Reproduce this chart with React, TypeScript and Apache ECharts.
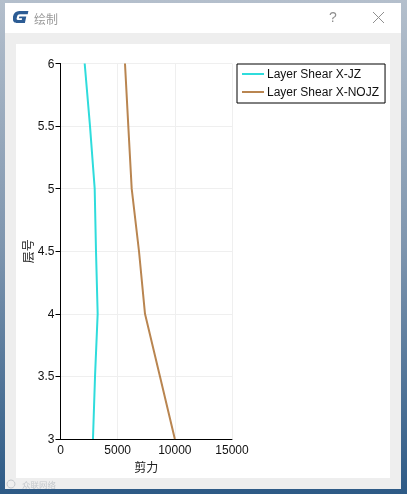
import React, { useEffect, useRef } from "react";
import * as echarts from "echarts";

const FONT = "'Liberation Sans', 'Noto Sans CJK SC', sans-serif";
const CJK = "'Noto Sans CJK SC', sans-serif";

const storeys = [3, 3.5, 4, 4.5, 5, 5.5, 6];
const shearJZ = [2840, 3020, 3250, 3105, 2990, 2580, 2115];
const shearNOJZ = [10000, 8700, 7390, 6866, 6227, 5930, 5640];
const seriesNames = ["Layer Shear X-JZ", "Layer Shear X-NOJZ"];
const seriesColors = ["#2fdcdc", "#b98550"];
const xTicks = { min: 0, max: 15000, interval: 5000 };
const yTicks = { min: 3, max: 6, interval: 0.5 };

const LOGO =
  "M22 0 L9 0 C4 0 1 3 0 8 L0 12 C0 16 3 17 6 17 L17 17 L19 8 L9 8 L8.5 10.5 L13 10.5 L12.5 13 L7 13 C5.5 13 5 12 5.2 10.5 L6 7.5 C6.4 5.5 7.5 4.5 10 4.5 L21 4.5 Z";
echarts.graphic.registerShape("gLogo", echarts.graphic.extendPath(LOGO, {}));

export default function App() {
  const ref = useRef<HTMLDivElement>(null);
  useEffect(() => {
    const chart = echarts.init(ref.current!, undefined, { renderer: "svg" });
    const toPairs = (xs: number[]) => xs.map((x, i) => [x, storeys[i]]);
    chart.setOption({
      animation: false,
      backgroundColor: "transparent",
      grid: { left: 60.5, top: 63.5, width: 171.5, height: 375.5, containLabel: false },
      xAxis: {
        type: "value",
        min: xTicks.min,
        max: xTicks.max,
        interval: xTicks.interval,
        name: "剪力",
        nameLocation: "middle",
        nameGap: 19,
        nameTextStyle: { color: "#222", fontFamily: CJK, fontSize: 12 },
        axisLine: { show: true, onZero: false, lineStyle: { color: "#000", width: 1 } },
        axisTick: { show: false },
        axisLabel: {
          color: "#111",
          fontFamily: FONT,
          fontSize: 12,
          margin: 5,
          hideOverlap: false,
          showMinLabel: true,
          showMaxLabel: true,
          formatter: (v: number) => String(v),
        },
        splitLine: { show: true, lineStyle: { color: "#efefef", width: 1 } },
      },
      yAxis: {
        type: "value",
        min: yTicks.min,
        max: yTicks.max,
        interval: yTicks.interval,
        name: "层号",
        nameLocation: "middle",
        nameGap: 27,
        nameRotate: 90,
        nameTextStyle: { color: "#222", fontFamily: CJK, fontSize: 12 },
        axisLine: { show: true, onZero: false, lineStyle: { color: "#000", width: 1 } },
        axisTick: { show: true, length: 5, lineStyle: { color: "#000" } },
        axisLabel: {
          color: "#111",
          fontFamily: FONT,
          fontSize: 12,
          margin: 6,
          showMinLabel: true,
          showMaxLabel: true,
        },
        splitLine: { show: true, lineStyle: { color: "#efefef", width: 1 } },
      },
      legend: {
        left: 237,
        top: 64,
        orient: "vertical",
        backgroundColor: "#fff",
        borderColor: "#000",
        borderWidth: 1,
        borderRadius: 0,
        padding: [4, 6, 5, 5],
        itemGap: 6,
        itemWidth: 22,
        itemHeight: 14,
        icon: "path://M0 6 H22 V8 H0 Z",
        textStyle: { color: "#111", fontFamily: FONT, fontSize: 12, padding: [0, 0, 0, -2] },
        data: seriesNames,
      },
      series: [
        {
          name: seriesNames[0],
          type: "line",
          showSymbol: false,
          data: toPairs(shearJZ),
          lineStyle: { color: seriesColors[0], width: 2 },
          itemStyle: { color: seriesColors[0] },
          z: 5,
        },
        {
          name: seriesNames[1],
          type: "line",
          showSymbol: false,
          data: toPairs(shearNOJZ),
          lineStyle: { color: seriesColors[1], width: 2 },
          itemStyle: { color: seriesColors[1] },
          z: 5,
        },
      ],
      graphic: [
        {
          type: "rect",
          z: -10,
          silent: true,
          shape: { x: 0, y: 0, width: 407, height: 494 },
          style: {
            fill: new echarts.graphic.LinearGradient(0, 0, 0, 1, [
              { offset: 0, color: "#b4bfcc" },
              { offset: 0.5, color: "#7e95ae" },
              { offset: 1, color: "#2d5a86" },
            ]),
          },
        },
        { type: "rect", z: -9, silent: true, shape: { x: 5, y: 3, width: 396, height: 486 }, style: { fill: "#eeeeee" } },
        { type: "rect", z: -8, silent: true, shape: { x: 5, y: 3, width: 396, height: 30 }, style: { fill: "#ffffff" } },
        { type: "rect", z: -8, silent: true, shape: { x: 16, y: 44, width: 374, height: 434 }, style: { fill: "#ffffff" } },
        { type: "gLogo", z: -7, silent: true, x: 13, y: 11, scaleX: 0.7, scaleY: 0.7, style: { fill: "#2c5c94" } },
        {
          type: "text",
          z: -7,
          silent: true,
          x: 34,
          y: 12,
          style: { text: "绘制", fill: "#9a9a9a", font: `12px ${CJK}` },
        },
        {
          type: "text",
          z: -7,
          silent: true,
          x: 329,
          y: 10,
          style: { text: "?", fill: "#8f8f8f", font: `14px ${FONT}` },
        },
        { type: "line", z: -7, silent: true, shape: { x1: 373, y1: 12, x2: 384, y2: 23 }, style: { stroke: "#8f8f8f", lineWidth: 1 } },
        { type: "line", z: -7, silent: true, shape: { x1: 384, y1: 12, x2: 373, y2: 23 }, style: { stroke: "#8f8f8f", lineWidth: 1 } },
        { type: "circle", z: -7, silent: true, shape: { cx: 11, cy: 484, r: 4 }, style: { fill: "none", stroke: "#c4c8cc", lineWidth: 1 } },
        {
          type: "text",
          z: -7,
          silent: true,
          x: 22,
          y: 480,
          style: { text: "众联网络", fill: "#c4c8cc", font: `8.5px ${CJK}` },
        },
      ],
    });
    return () => chart.dispose();
  }, []);
  return <div ref={ref} style={{ position: "fixed", left: 0, top: 0, width: 407, height: 494 }} />;
}
